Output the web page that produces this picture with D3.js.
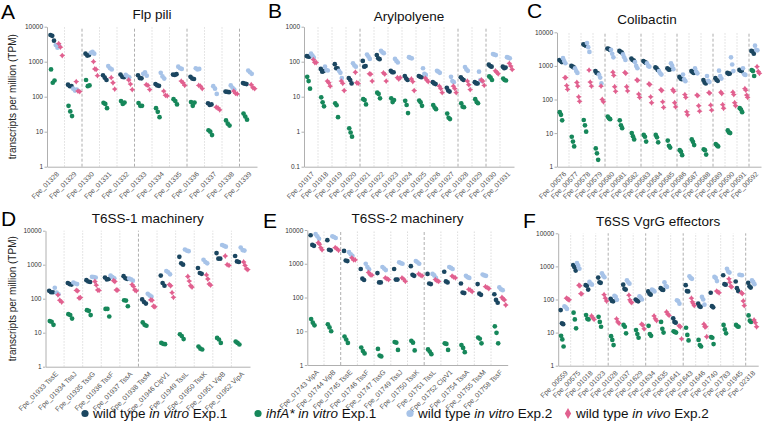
<!DOCTYPE html>
<html lang="en">
<head>
<meta charset="utf-8" />
<title>Transcripts per million</title>
<script src="https://d3js.org/d3.v7.min.js"></script>
<style>
  body { margin: 0; background: #fff; }
  svg { display: block; font-family: "Liberation Sans", Arial, sans-serif; }
</style>
</head>
<body>
<div id="container"></div>
<script>
// ---- data (TPM) ----
const tpmTicks = [1, 10, 100, 1000, 10000];
const arylTicks = [0.1, 1, 10, 100, 1000];

const seriesNames = ['wild type in vitro Exp.1', 'ihfA* in vitro Exp.1', 'wild type in vitro Exp.2', 'wild type in vivo Exp.2'];
const legendParts = [
  [['wild type ', false], ['in vitro', true], [' Exp.1', false]],
  [['ihfA* in vitro', true], [' Exp.1', false]],
  [['wild type ', false], ['in vitro', true], [' Exp.2', false]],
  [['wild type ', false], ['in vivo', true], [' Exp.2', false]]
];

// A  Flp pili
const flpGenes = ['Fpe_01328','Fpe_01329','Fpe_01330','Fpe_01331','Fpe_01332','Fpe_01333','Fpe_01334','Fpe_01335','Fpe_01336','Fpe_01337','Fpe_01338','Fpe_01339'];
const flpWt1 = [[5800,5500,4000],[220,200,200],[1700,1500,1550],[410,350,300],[430,370,360],[410,340,335],[230,210,205],[430,420,440],[370,330,320],[65,58,60],[140,138,135],[245,235,230]];
const flpIhf1 = [[600,250,290],[55,38,28],[300,200,210],[67,62,47],[75,62,68],[66,55,55],[47,37,26],[85,75,60],[70,55,68],[11,10,8],[21,17,15],[33,27,22]];
const flpWt2 = [[3000,2500,2800],[170,150,160],[1800,1900,1700],[750,650,600],[420,380,360],[450,500,400],[480,380,330],[720,650,620],[650,600,620],[200,170,120],[210,180,160],[560,500,450]];
const flpVivo2 = [[3300,2600,1500],[270,145,140],[1000,620,600,400],[350,250,165],[300,230,160],[220,210,160],[145,110,105],[280,250,210],[210,200,170],[50,48,42],[145,125,120],[220,180,170]];

// B  Arylpolyene
const arylGenes = ['Fpe_01917','Fpe_01918','Fpe_01919','Fpe_01920','Fpe_01921','Fpe_01922','Fpe_01923','Fpe_01924','Fpe_01925','Fpe_01926','Fpe_01927','Fpe_01928','Fpe_01929','Fpe_01930','Fpe_01931'];
const arylWt1 = [[145,140,140],[62,52,54],[85,65,65],[34,30,24],[105,72,75],[155,125,118],[55,50,50],[39,33,30],[39,37,36],[26,24,23],[18,15,14],[36,32,30],[26,24,24],[82,75,72],[72,65,68]];
const arylIhf1 = [[37,28,17],[9.6,6.9,5.3],[6.5,5.7,2.6],[1.25,0.95,0.72],[8.5,8,6],[13,12,9],[9,7,8],[7.6,5.8,3.4],[7.8,6.9,5.5],[5.8,4.9,4.4],[3.3,2.5,2.3],[6.5,5.2,5],[8.5,7,6.5],[38,35,30],[33,30,29]];
const arylWt2 = [[170,150,130],[72,58,56],[55,48,34],[90,78,72],[160,140,120],[205,185,175],[120,105,95],[135,128,125],[65,45,42],[55,52,48],[37,28,26],[70,60,55],[52,30,28],[165,160,155],[135,130,125]];
const arylVivo2 = [[115,95,95],[28,25,20],[28,24,15],[50,25,24],[45,44,28],[48,44,28],[35,32,35],[32,27,15],[34,30,27],[20,17,13],[20,17,13],[28,22,16],[30,28,21],[55,50,45],[90,75,60]];

// C  Colibactin
const coliGenes = ['Fpe_00576','Fpe_00577','Fpe_00578','Fpe_00579','Fpe_00580','Fpe_00581','Fpe_00582','Fpe_00583','Fpe_00584','Fpe_00585','Fpe_00586','Fpe_00587','Fpe_00588','Fpe_00589','Fpe_00590','Fpe_00591','Fpe_00592'];
const coliWt1 = [[1500,1400,1300],[1000,950,900],[4400,4200,4000],[700,620,600],[3300,3200,3000],[2800,2600,2500],[1650,1500,1450],[1400,1300,1250],[900,850,750],[850,780,780],[470,420,400],[700,650,620],[380,320,300],[430,380,360],[620,580,590],[760,720,700],[2800,2700,2300]];
const coliIhf1 = [[42,35,24],[7.8,5.6,4],[24.5,17,11],[3.5,2.5,1.6],[31,27.5,26],[24,17,14],[10,8,6.5],[8.8,7.8,5.6],[8.8,7.5,5.3],[6,4.2,3.7],[3.1,2.8,2.2],[6.5,5.5,4.4],[3.3,3.1,2.3],[4.7,4.3,4],[12,10.5,10],[55,50,42],[750,700,500]];
const coliWt2 = [[1700,1400,1200],[850,700,620],[4800,3600,2600],[550,450,300],[3000,2300,1800],[2200,1800,1500],[1300,1000,850],[1200,1000,950],[700,600,550],[1200,1000,800],[550,400,350],[850,680,600],[500,360,330],[720,500,420],[1800,1100,700],[850,560,540],[4000,3000,2900]];
const coliVivo2 = [[450,450,260,200],[320,250,120,88],[750,330,250],[250,100,85],[650,520,240,175],[640,600,240,180],[380,370,145,115],[290,280,120,80],[195,185,85,58],[195,175,80,60],[140,115,43,35],[135,130,65,45],[160,155,68,48],[165,150,70,55],[165,140,80,65],[210,190,135,115],[950,680,600]];

// D  T6SS-1 machinery
const t61Genes = ['Fpe_01933 TssE','Fpe_01934 TssJ','Fpe_01935 TssG','Fpe_01936 TssF','Fpe_01937 TssA','Fpe_01938 TssM','Fpe_01946 ClpV1','Fpe_01949 TssL','Fpe_01950 TssK','Fpe_01951 VipB','Fpe_01952 VipA'];
const t61Wt1 = [[170,155,155],[290,270,260],[350,320,310],[420,370,380],[460,400,380],[95,80,72],[480,290,240],[1700,1100,1000],[800,570,540],[2200,1500,1500],[1800,1250,1200]];
const t61Ihf1 = [[22,21,17],[35,33,26],[46,44,33],[50,50,30],[90,88,60],[20,17,16],[5,4.7,4.6],[9,8,6.5],[3.9,3.4,3.2],[7,6.3,5],[5.5,5,4.5]];
const t61Wt2 = [[210,150,135],[300,280,270],[440,430,420],[480,430,400],[390,370,340],[140,125,115],[650,600,520],[2800,2600,2500],[1400,1200,1100],[3800,3600,3400],[3200,2700,2600]];
const t61Vivo2 = [[130,90,80],[175,170,105,108],[320,250,180,175],[340,320,180,178],[260,230,180,170],[92,90,60,58],[260,240,150,110],[450,330,240,220],[500,380,270,250],[1800,1000,950],[1200,950,750,720]];

// E  T6SS-2 machinery
const t62Genes = ['Fpe_01743 VipA','Fpe_01744 VipB','Fpe_01745 TssE','Fpe_01746 TssF','Fpe_01747 TssG','Fpe_01749 TssJ','Fpe_01750 TssK','Fpe_01751 TssL','Fpe_01752 ClpV1','Fpe_01754 TssA','Fpe_01755 TssM','Fpe_01758 TssF'];
const t62Wt1 = [[7000,3600,3400],[5000,2600,2500],[2400,1250,1200],[700,360,330],[530,280,280],[700,340,340],[850,470,440],[500,260,250],[580,300,280],[260,140,135],[250,130,120],[125,85,70]];
const t62Ihf1 = [[23,18,15],[16,13,10],[7,5.7,4.5],[3.3,2.6,2.2],[3,1.9,1.8],[4.8,4.6,2.8],[5.2,4.6,2.7],[2.9,2.5,2.1],[4.4,4.2,2.8],[3.9,3.2,2.4],[6.5,6,4.4],[14,9,4.4]];
const t62Wt2 = [[7500,6500,5500],[6500,6200,5800],[2200,1900,1700],[1000,800,680],[800,720,650],[1100,1050,1000],[1200,1100,1000],[500,450,380],[800,750,700],[440,400,380],[480,450,440],[200,175,165]];
const t62Vivo2 = [[4200,3800,3000,2600],[3000,2800,2500],[1500,1300,1300],[550,470,460],[380,360,340],[380,350,300],[500,460,440],[340,310,300],[430,400,380],[175,165,150],[210,195,185],[100,90,85,60]];

// F  T6SS VgrG effectors
const vgrGenes = ['Fpe_00559','Fpe_00575','Fpe_01018','Fpe_01023','Fpe_01028','Fpe_01037','Fpe_01629','Fpe_01634','Fpe_01635','Fpe_01641','Fpe_01643','Fpe_01646','Fpe_01740','Fpe_01783','Fpe_01945','Fpe_02318'];
const vgrWt1 = [[48,19,18],[1100,950,750],[270,260,200],[460,330,320],[105,90,88],[280,210,200],[100,92,88],[175,150,140],[220,200,195],[27,21,20],[270,180,175],[75,62,60],[160,63,58],[540,290,280],[350,220,180],[320,250,230]];
const vgrIhf1 = [[8,6.2,3.8],[40,25,13.5],[34,26,25],[30,21,15],[7.8,6,4.2],[17,15,9.5],[12,9,7],[16,9,8],[21,13,10],[11,10.5,10],[14,8.5,5.8],[6,4.2,3.8],[7.3,7,4.5],[17,12.5,9.5],[17,15.5,15],[33,23,21]];
const vgrWt2 = [[62,58,52],[1250,1050,850],[340,300,280],[620,520,470],[130,120,98],[380,330,300],[125,115,100],[200,190,175],[330,260,240],[95,90,75],[500,450,420],[120,100,70],[480,450,360],[850,700,650],[560,550,540],[380,340,290]];
const vgrVivo2 = [[110,105,100,98],[270,260,150,148],[32,28,25],[140,110,90],[26,21,19],[135,98,85,80],[18,17,13],[32,26,23],[42,36,33],[16,15,6.5],[110,85,75,65],[18,15,15,7.5],[180,170,160],[420,330,250,240],[160,150,90,65],[24,20,15]];

// ---- layout ----
const width = 763;
const height = 429;
const colors = ['#1b4660', '#16875a', '#a7c3e8', '#e1608f'];
const subPos = [0.3, 0.33, 0.6, 0.77];

const panels = [
  { letter: 'A', title: 'Flp pili', genes: flpGenes, values: [flpWt1, flpIhf1, flpWt2, flpVivo2], ticks: tpmTicks,
    x: [47, 257], y: [166.7, 26.7], strong: [2, 5, 8, 11], yTitle: true, titleY: 19, letterX: 1, letterY: 19 },
  { letter: 'B', title: 'Arylpolyene', genes: arylGenes, values: [arylWt1, arylIhf1, arylWt2, arylVivo2], ticks: arylTicks,
    x: [304, 514], y: [166.7, 26.7], strong: [4, 11, 13], yTitle: false, titleY: 21, letterX: 268, letterY: 18 },
  { letter: 'C', title: 'Colibactin', genes: coliGenes, values: [coliWt1, coliIhf1, coliWt2, coliVivo2], ticks: tpmTicks,
    x: [557, 761], y: [166.7, 32.3], strong: [4, 7, 10, 13, 16], yTitle: false, titleY: 24, titleX: 647, letterX: 527, letterY: 18 },
  { letter: 'D', title: 'T6SS-1 machinery', genes: t61Genes, values: [t61Wt1, t61Ihf1, t61Wt2, t61Vivo2], ticks: tpmTicks,
    x: [45.5, 250], y: [366.7, 230.7], strong: [5], yTitle: true, titleY: 223, letterX: 1, letterY: 226 },
  { letter: 'E', title: 'T6SS-2 machinery', genes: t62Genes, values: [t62Wt1, t62Ihf1, t62Wt2, t62Vivo2], ticks: tpmTicks,
    x: [307.3, 507.7], y: [365, 230], strong: [2, 7], yTitle: false, titleY: 223, letterX: 263, letterY: 228 },
  { letter: 'F', title: 'T6SS VgrG effectors', genes: vgrGenes, values: [vgrWt1, vgrIhf1, vgrWt2, vgrVivo2], ticks: tpmTicks,
    x: [558.2, 758.2], y: [365.7, 233.3], strong: [4, 7, 10, 15], yTitle: false, titleY: 226, letterX: 523, letterY: 228 }
];

// small four-pointed star used for the in vivo points
const star4 = {
  draw(ctx, size) {
    const r = Math.sqrt(size) * 0.75;
    const a = r * 0.4;
    ctx.moveTo(0, -r);
    ctx.lineTo(a, -a);
    ctx.lineTo(r, 0);
    ctx.lineTo(a, a);
    ctx.lineTo(0, r);
    ctx.lineTo(-a, a);
    ctx.lineTo(-r, 0);
    ctx.lineTo(-a, -a);
    ctx.closePath();
  }
};

const svg = d3.select('#container')
  .append('svg')
  .attr('width', width)
  .attr('height', height);

const starPath = d3.symbol().type(star4).size(15)();

panels.forEach(p => {
  const g = svg.append('g');
  const x = d3.scaleBand().domain(p.genes).range(p.x);
  const y = d3.scaleLog().domain([p.ticks[0], p.ticks[p.ticks.length - 1]]).range(p.y);
  const bw = x.bandwidth();

  // separators between genes
  g.selectAll('line.sep')
    .data(d3.range(1, p.genes.length))
    .join('line')
    .attr('x1', i => x(p.genes[i]))
    .attr('x2', i => x(p.genes[i]))
    .attr('y1', p.y[0])
    .attr('y2', p.y[1])
    .attr('stroke', i => p.strong.includes(i) ? '#9a9a9a' : '#d4d4d4')
    .attr('stroke-width', 0.8)
    .attr('stroke-dasharray', i => p.strong.includes(i) ? '3,2' : '1.5,1.5');

  // y axis
  const yAxis = d3.axisLeft(y)
    .tickValues(p.ticks)
    .tickFormat(d => String(d))
    .tickSize(2.5)
    .tickSizeOuter(0)
    .tickPadding(1.5);

  const ya = g.append('g')
    .attr('transform', `translate(${p.x[0]},0)`)
    .call(yAxis);
  ya.select('.domain').attr('stroke', '#b0b0b0');
  ya.selectAll('line').attr('stroke', '#b0b0b0');
  ya.selectAll('text').attr('fill', '#333').style('font-size', '6.5px').style('font-family', '"Liberation Sans", Arial, sans-serif');

  // x axis with slanted gene labels
  const xAxis = d3.axisBottom(x).tickSize(0).tickSizeOuter(0);
  const xa = g.append('g')
    .attr('transform', `translate(0,${p.y[0]})`)
    .call(xAxis);
  xa.select('.domain').attr('stroke', '#b0b0b0');
  xa.selectAll('text')
    .attr('y', 0)
    .attr('dy', '0.35em')
    .attr('text-anchor', 'end')
    .attr('transform', 'translate(2,6) rotate(-45)')
    .attr('fill', '#555')
    .style('font-size', '7px')
    .style('font-family', '"Liberation Sans", Arial, sans-serif');

  // points
  p.values.forEach((seriesVals, s) => {
    const pts = [];
    seriesVals.forEach((vals, gi) => {
      const n = vals.length;
      const step = n > 3 ? bw * 0.075 : bw * 0.1;
      vals.forEach((v, k) => {
        pts.push({
          cx: x(p.genes[gi]) + bw * subPos[s] + (k - (n - 1) / 2) * step,
          cy: y(v)
        });
      });
    });

    if (s < 3) {
      g.append('g').selectAll('circle')
        .data(pts)
        .join('circle')
        .attr('cx', d => d.cx)
        .attr('cy', d => d.cy)
        .attr('r', 2.35)
        .attr('fill', colors[s]);
    } else {
      g.append('g').selectAll('path')
        .data(pts)
        .join('path')
        .attr('d', starPath)
        .attr('transform', d => `translate(${d.cx},${d.cy})`)
        .attr('fill', colors[s]);
    }
  });

  // title and panel letter
  g.append('text')
    .attr('x', p.titleX || (p.x[0] + p.x[1]) / 2)
    .attr('y', p.titleY)
    .attr('text-anchor', 'middle')
    .style('font-size', '13.5px')
    .attr('fill', '#111')
    .text(p.title);

  g.append('text')
    .attr('x', p.letterX)
    .attr('y', p.letterY)
    .style('font-size', '21px')
    .attr('fill', '#000')
    .text(p.letter);

  if (p.yTitle) {
    g.append('text')
      .attr('transform', `translate(16,${(p.y[0] + p.y[1]) / 2}) rotate(-90)`)
      .attr('text-anchor', 'middle')
      .style('font-size', '10px')
      .attr('fill', '#222')
      .text('transcripts per million (TPM)');
  }
});

// legend
const legend = svg.append('g').attr('transform', 'translate(0,418)');
const legendX = [85, 258, 410, 568];
legendParts.forEach((parts, i) => {
  const lx = legendX[i];
  if (i < 3) {
    legend.append('circle').attr('cx', lx).attr('cy', -4.5).attr('r', 3.6).attr('fill', colors[i]);
  } else {
    legend.append('path')
      .attr('d', d3.symbol().type(d3.symbolDiamond).size(34)())
      .attr('transform', `translate(${lx},-4.5)`)
      .attr('fill', colors[i]);
  }
  const t = legend.append('text')
    .attr('x', lx + 8)
    .attr('y', 0)
    .style('font-size', '13.5px')
    .style('white-space', 'pre')
    .attr('fill', '#111');
  parts.forEach(([txt, it]) => {
    t.append('tspan').text(txt).style('font-style', it ? 'italic' : 'normal');
  });
  t.append('title').text(seriesNames[i]);
});
</script>
</body>
</html>
